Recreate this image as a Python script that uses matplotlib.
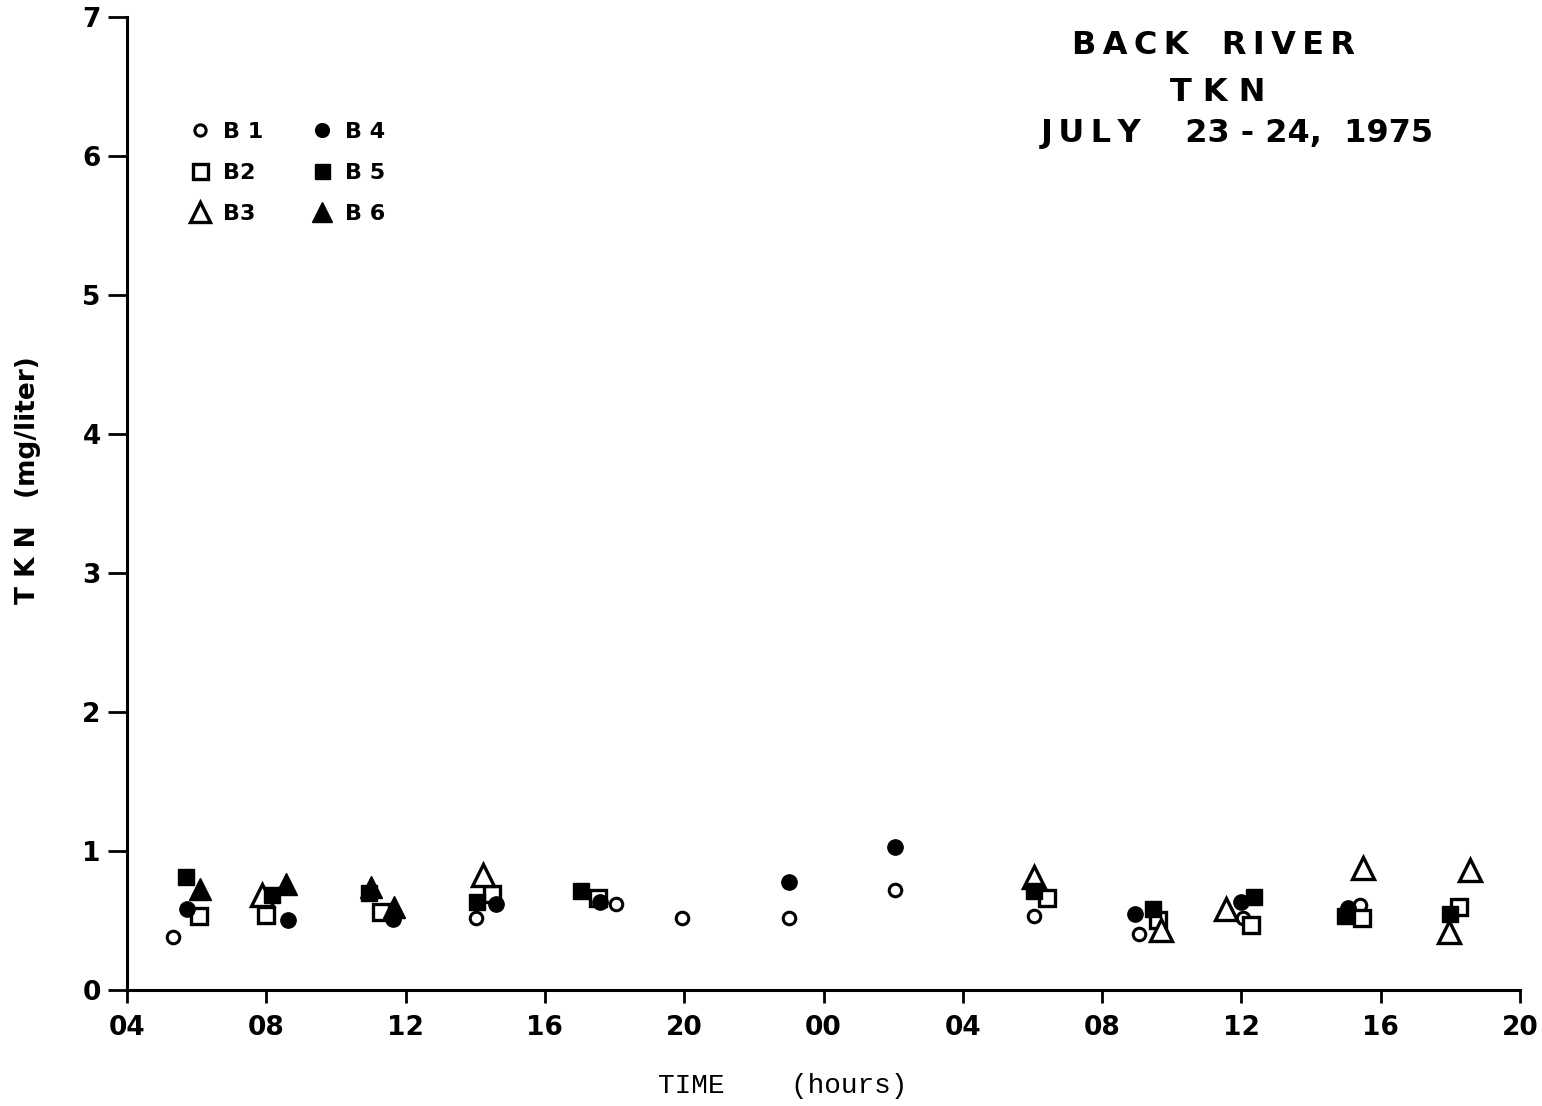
import matplotlib
matplotlib.use("Agg")
import matplotlib.pyplot as plt

# hours counted from midnight, July 23 (04 .. 20 next day)
b1_t = [5.32, 14.02, 18.04, 19.93, 23.0, 26.05, 30.04, 33.06, 36.04, 39.4]
b1_v = [0.38, 0.52, 0.62, 0.52, 0.52, 0.72, 0.53, 0.40, 0.52, 0.61]

b2_t = [6.07, 7.99, 11.3, 14.48, 17.52, 30.41, 33.6, 36.27, 39.45, 42.25]
b2_v = [0.53, 0.54, 0.56, 0.69, 0.66, 0.66, 0.50, 0.47, 0.52, 0.60]

b3_t = [7.88, 14.22, 30.04, 33.7, 35.55, 39.49, 41.95, 42.56]
b3_v = [0.68, 0.83, 0.81, 0.43, 0.58, 0.88, 0.42, 0.86]

b4_t = [5.72, 8.62, 11.65, 14.6, 17.58, 23.0, 26.05, 32.95, 35.98, 39.05]
b4_v = [0.58, 0.50, 0.51, 0.62, 0.63, 0.78, 1.03, 0.55, 0.63, 0.59]

b5_t = [5.69, 8.16, 10.95, 14.05, 17.03, 30.04, 33.46, 36.36, 38.98, 42.0]
b5_v = [0.81, 0.68, 0.70, 0.63, 0.71, 0.71, 0.58, 0.67, 0.53, 0.55]

b6_t = [6.1, 8.57, 11.0, 11.68]
b6_v = [0.73, 0.76, 0.74, 0.60]

xticks = [4, 8, 12, 16, 20, 24, 28, 32, 36, 40, 44]
xlabels = ["04", "08", "12", "16", "20", "00", "04", "08", "12", "16", "20"]

fig = plt.figure(figsize=(15.42, 11.06), dpi=100)
ax = fig.add_axes([0.0824, 0.1049, 0.9033, 0.8797])

ax.plot(b1_t, b1_v, "o", ms=9, mfc="white", mec="black", mew=2.2, label="B 1", zorder=3)
ax.plot(b2_t, b2_v, "s", ms=12, mfc="white", mec="black", mew=2.4, label="B2", zorder=3)
ax.plot(b3_t, b3_v, "^", ms=16, mfc="white", mec="black", mew=2.4, label="B3", zorder=3)
ax.plot(b4_t, b4_v, "o", ms=11, color="black", label="B 4", zorder=3)
ax.plot(b5_t, b5_v, "s", ms=12, color="black", label="B 5", zorder=3)
ax.plot(b6_t, b6_v, "^", ms=16, color="black", label="B 6", zorder=3)

ax.set_xlim(4, 44)
ax.set_ylim(0, 7)
ax.set_xticks(xticks)
ax.set_xticklabels(xlabels)
ax.set_yticks(range(0, 8))

for s in ["top", "right"]:
    ax.spines[s].set_visible(False)
for s in ["left", "bottom"]:
    ax.spines[s].set_linewidth(2.2)

ax.tick_params(axis="y", length=14, width=2, pad=5, labelsize=19)
ax.tick_params(axis="x", length=9, width=2, pad=9, labelsize=19)
for lab in ax.get_xticklabels() + ax.get_yticklabels():
    lab.set_fontweight("bold")

ax.set_ylabel("T K N   (mg/liter)", fontsize=19, fontweight="bold")
ax.yaxis.set_label_coords(-0.062, 0.524)
ax.set_xlabel("TIME    (hours)", fontsize=20, family="Liberation Mono")
ax.xaxis.set_label_coords(0.471, -0.085)

# title block, one line at a time
ts = "\u2009"
ax.text(0.780, 0.9712, ts.join("BACK") + "   " + ts.join("RIVER"),
        transform=ax.transAxes, ha="center", va="center", fontsize=23, fontweight="bold")
ax.text(0.783, 0.9229, "T K N", transform=ax.transAxes, ha="center",
        va="center", fontsize=23, fontweight="bold")
ax.text(0.797, 0.8808, ts.join("JULY") + "    23 - 24,  1975", transform=ax.transAxes,
        ha="center", va="center", fontsize=23, fontweight="bold")

ax.legend(loc="upper left", bbox_to_anchor=(0.025, 0.913), ncol=2, frameon=False,
          prop={"weight": "bold", "size": 16}, handlelength=1.6, handletextpad=0.25,
          columnspacing=1.85, labelspacing=0.95, markerscale=0.9, numpoints=1)

fig.savefig("out.png", dpi=100)
